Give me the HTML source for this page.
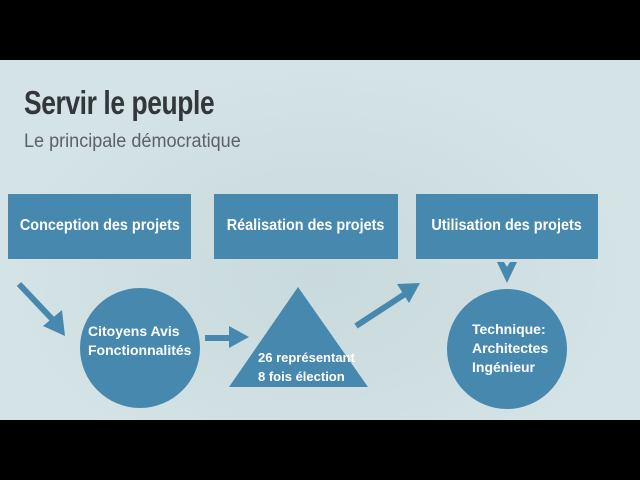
<!DOCTYPE html>
<html><head><meta charset="utf-8"><style>
body{margin:0;width:640px;height:480px;overflow:hidden;background:#000;position:relative;font-family:"Liberation Sans",sans-serif}
.bg{position:absolute;left:0;top:60px;width:640px;height:360px;background:radial-gradient(ellipse at 50% 60%,#c9dadc,#d4e3e5 70%)}
.box{position:absolute;top:194px;height:65px;background:#4789ae;color:#fff;font-weight:bold;font-size:16px;line-height:63px;text-align:center;box-sizing:border-box}
.box span{display:inline-block;transform:scaleX(0.9)}
.t{position:absolute;color:#fff;font-weight:bold;font-size:14px;line-height:19px}
</style></head><body>
<div class="bg"></div>
<div style="position:absolute;left:24px;top:84px;font-size:33px;font-weight:bold;color:#33363b;transform:scaleX(0.8);transform-origin:left;letter-spacing:-0.5px">Servir le peuple</div>
<div style="position:absolute;left:24px;top:131px;font-size:19px;color:#5b6166;transform:scaleX(0.95);transform-origin:left">Le principale démocratique</div>
<div class="box" style="left:8px;width:183px"><span>Conception des projets</span></div>
<div class="box" style="left:214px;width:184px"><span>Réalisation des projets</span></div>
<div class="box" style="left:416px;width:182px"><span>Utilisation des projets</span></div>
<svg width="640" height="480" style="position:absolute;left:0;top:0">
<g fill="#4789ae" stroke="#4789ae">
<circle cx="140" cy="348" r="60" stroke="none"/>
<circle cx="507" cy="349" r="60" stroke="none"/>
<polygon points="298,287 368,387 229,387" stroke="none"/>
<line x1="19" y1="284" x2="53" y2="320" stroke-width="6"/>
<polygon points="43,326 62,310 65,336" stroke="none"/>
<line x1="205" y1="338" x2="232" y2="338" stroke-width="6"/>
<polygon points="229,326 249,337 229,348" stroke="none"/>
<line x1="356" y1="326" x2="405" y2="294" stroke-width="6"/>
<polygon points="397,284 420,283 409,303" stroke="none"/>
<polygon points="497,262 504,262 507,267 510,262 517,262 507,283" stroke="none"/>
</g></svg>
<div class="t" style="left:88px;top:322px">Citoyens Avis<br>Fonctionnalités</div>
<div class="t" style="left:258px;top:348px;font-size:13px">26 représentant<br>8 fois élection</div>
<div class="t" style="left:472px;top:320px">Technique:<br>Architectes<br>Ingénieur</div>
</body></html>
